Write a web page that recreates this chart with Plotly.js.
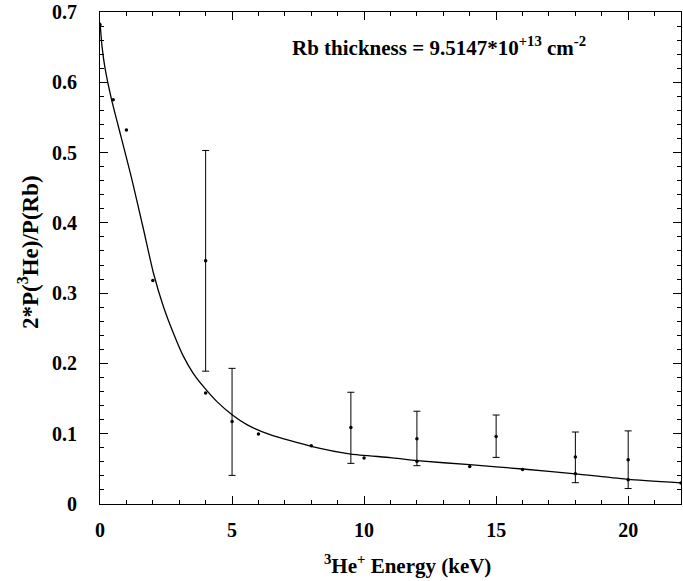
<!DOCTYPE html>
<html>
<head>
<meta charset="utf-8">
<script src="https://cdn.plot.ly/plotly-3.0.1.min.js"></script>
<style>
html,body{margin:0;padding:0;background:#fff;}
</style>
</head>
<body>
<div id="chart" style="width:683px;height:581px;"></div>
<script>
// Points without error bars
const ptX = [0, 0.5, 1, 2, 4, 6, 8, 10, 12, 14, 16, 18, 20, 22];
const ptY = [0.682, 0.575, 0.532, 0.318, 0.158, 0.0996, 0.083, 0.0654, 0.061, 0.0535, 0.049, 0.043, 0.0346, 0.030];

// Points with asymmetric error bars
const errX = [4, 5, 9.5, 12, 15, 18, 20];
const errY = [0.346, 0.1175, 0.109, 0.0929, 0.096, 0.0668, 0.063];
const errHigh = [0.503, 0.193, 0.159, 0.132, 0.1266, 0.1024, 0.104];
const errLow = [0.189, 0.0407, 0.0578, 0.0545, 0.0663, 0.0303, 0.022];

// Fitted curve
const fitX = [0, 0.08, 0.19, 0.44, 0.8, 1.2, 1.64, 2.02, 2.40, 2.78, 3.16, 3.53, 3.92, 4.42, 5, 5.56, 6.44, 8, 9.5, 11, 12, 14, 16, 18, 20, 22];
const fitY = [0.685, 0.65, 0.620, 0.575, 0.522, 0.463, 0.392, 0.329, 0.281, 0.243, 0.210, 0.186, 0.167, 0.146, 0.127, 0.113, 0.0986, 0.082, 0.071, 0.066, 0.0616, 0.056, 0.0498, 0.043, 0.035, 0.030];

const plus = errHigh.map((h, i) => h - errY[i]);
const minus = errLow.map((l, i) => errY[i] - l);

const traces = [
  {x: fitX, y: fitY, mode: 'lines', line: {color: '#000', width: 1.3, shape: 'spline', smoothing: 0.5}, hoverinfo: 'skip'},
  {x: ptX, y: ptY, mode: 'markers', marker: {color: '#000', size: 3.5}},
  {x: errX, y: errY, mode: 'markers', marker: {color: '#000', size: 3.5},
   error_y: {type: 'data', symmetric: false, array: plus, arrayminus: minus, color: '#000', thickness: 1, width: 3.5}}
];

function tf(size) { return {family: 'Liberation Serif', size: size, weight: 'bold', color: '#000'}; }

const layout = {
  width: 683, height: 581,
  margin: {l: 100, r: 2, t: 12, b: 77},
  paper_bgcolor: '#fff', plot_bgcolor: '#fff',
  showlegend: false,
  xaxis: {
    range: [0, 22], dtick: 5, tick0: 0,
    ticks: 'inside', ticklen: 8, tickcolor: '#000', tickwidth: 1,
    minor: {dtick: 1, ticks: 'inside', ticklen: 4, tickcolor: '#000'},
    showline: true, linecolor: '#000', linewidth: 1, mirror: 'ticks',
    showgrid: false, zeroline: false,
    tickfont: tf(20),
    ticklabelstandoff: 8
  },
  yaxis: {
    range: [0, 0.7], dtick: 0.1, tick0: 0,
    tickformat: '.1~f',
    ticks: 'inside', ticklen: 8, tickcolor: '#000', tickwidth: 1,
    minor: {dtick: 0.02, ticks: 'inside', ticklen: 4, tickcolor: '#000'},
    showline: true, linecolor: '#000', linewidth: 1, mirror: 'ticks',
    showgrid: false, zeroline: false,
    tickfont: tf(20),
    ticklabelstandoff: 18
  },
  annotations: [
    {text: 'Rb thickness = 9.5147*10<sup>+13</sup> cm<sup>-2</sup>',
     xref: 'paper', yref: 'paper', x: 0.583, y: 0.929, xanchor: 'center', yanchor: 'middle',
     showarrow: false, font: tf(21)},
    {text: '<sup>3</sup>He<sup>+</sup> Energy (keV)',
     xref: 'paper', yref: 'paper', x: 0.53, y: -0.123, xanchor: 'center', yanchor: 'middle',
     showarrow: false, font: tf(21)},
    {text: '2*P(<sup>3</sup>He)/P(Rb)', textangle: -90,
     xref: 'paper', yref: 'paper', x: -0.124, y: 0.512, xanchor: 'center', yanchor: 'middle',
     showarrow: false, font: tf(23)}
  ]
};

Plotly.newPlot('chart', traces, layout, {displayModeBar: false});
</script>
</body>
</html>
